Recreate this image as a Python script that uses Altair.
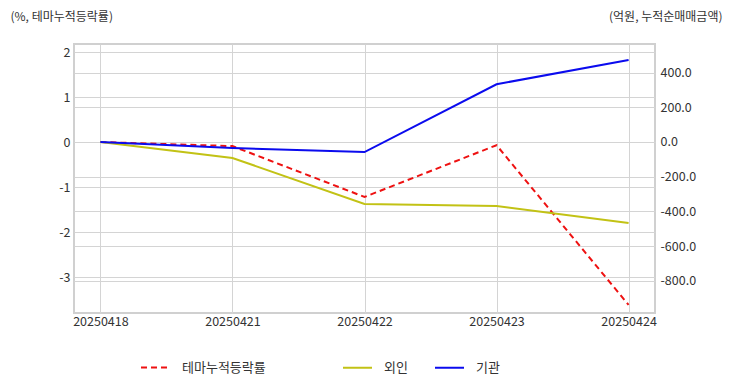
import altair as alt
import pandas as pd

dates = ["20250418", "20250421", "20250422", "20250423", "20250424"]
theme_name = "테마누적등락률"
theme_vals = [0.0, -0.09, -1.22, -0.07, -3.62]
foreign_name = "외인"
foreign_vals = [0.0, -92.0, -357.0, -369.0, -467.0]
inst_name = "기관"
inst_vals = [0.0, -35.0, -58.0, 333.0, 473.0]

left_ticks = [-3, -2, -1, 0, 1, 2]
right_ticks = [-800, -600, -400, -200, 0, 200, 400]

df_theme = pd.DataFrame({"date": dates, "value": theme_vals, "series": theme_name})
df_right = pd.concat([
    pd.DataFrame({"date": dates, "value": foreign_vals, "series": foreign_name}),
    pd.DataFrame({"date": dates, "value": inst_vals, "series": inst_name}),
])

FONT = "Noto Sans CJK KR"
GRID = "#d4d4d4"
MINUS_FIX = "replace(datum.label, '\u2212', '-')"

xenc = alt.X(
    "date:O",
    sort=dates,
    scale=alt.Scale(type="point", padding=0.2),
    axis=alt.Axis(title=None, labelAngle=0, ticks=False, domain=False, grid=True,
                  gridColor=GRID, labelPadding=2),
)

def legend(x):
    return alt.Legend(orient="none", legendX=x, legendY=308, title=None, direction="horizontal",
                      symbolType="stroke", symbolSize=841, symbolStrokeWidth=2,
                      labelOffset=11, columnPadding=23, labelFont=FONT, labelFontSize=13,
                      labelColor="#333333")

left = alt.Chart(df_theme).mark_line(strokeWidth=2).encode(
    x=xenc,
    y=alt.Y("value:Q",
            scale=alt.Scale(domain=[-3.8, 2.18], nice=False, zero=False),
            axis=alt.Axis(orient="left", values=left_ticks, ticks=False, domain=False, grid=True,
                          gridColor=GRID, labelPadding=4, format="d", labelExpr=MINUS_FIX,
                          title="(%, 테마누적등락률)", titleAngle=0, titleX=-64, titleY=-28,
                          titleAlign="left", titleBaseline="middle")),
    color=alt.Color("series:N", scale=alt.Scale(domain=[theme_name], range=["#ee1111"]),
                    legend=legend(66)),
    strokeDash=alt.StrokeDash("series:N", scale=alt.Scale(domain=[theme_name], range=[[6, 4]]),
                              legend=legend(66)),
)

right = alt.Chart(df_right).mark_line(strokeWidth=2).encode(
    x=xenc,
    y=alt.Y("value:Q",
            scale=alt.Scale(domain=[-986, 565], nice=False, zero=False),
            axis=alt.Axis(orient="right", values=right_ticks, ticks=False, domain=False, grid=True,
                          gridColor=GRID, labelPadding=5, format=".1f", labelExpr=MINUS_FIX,
                          title="(억원, 누적순매매금액)", titleAngle=0, titleX=67, titleY=-28,
                          titleAlign="right", titleBaseline="middle")),
    color=alt.Color("series:N", sort=[foreign_name, inst_name],
                    scale=alt.Scale(domain=[foreign_name, inst_name], range=["#c2c215", "#0b0bee"]),
                    legend=legend(268)),
)

chart = alt.layer(left, right).resolve_scale(
    y="independent", color="independent", strokeDash="independent"
).properties(
    width=581, height=269,
    autosize=alt.AutoSizeParams(type="none"),
    padding={"left": 66, "top": 36, "right": 69, "bottom": 71},
).configure_view(
    stroke="#d0d0d0", strokeWidth=2
).configure_axis(
    labelFont=FONT, labelFontSize=12.5, labelColor="#333333",
    titleFont=FONT, titleFontSize=12, titleColor="#333333", titleFontWeight="normal",
)

chart.save("out.html", embed_options={"renderer": "svg", "actions": False})
